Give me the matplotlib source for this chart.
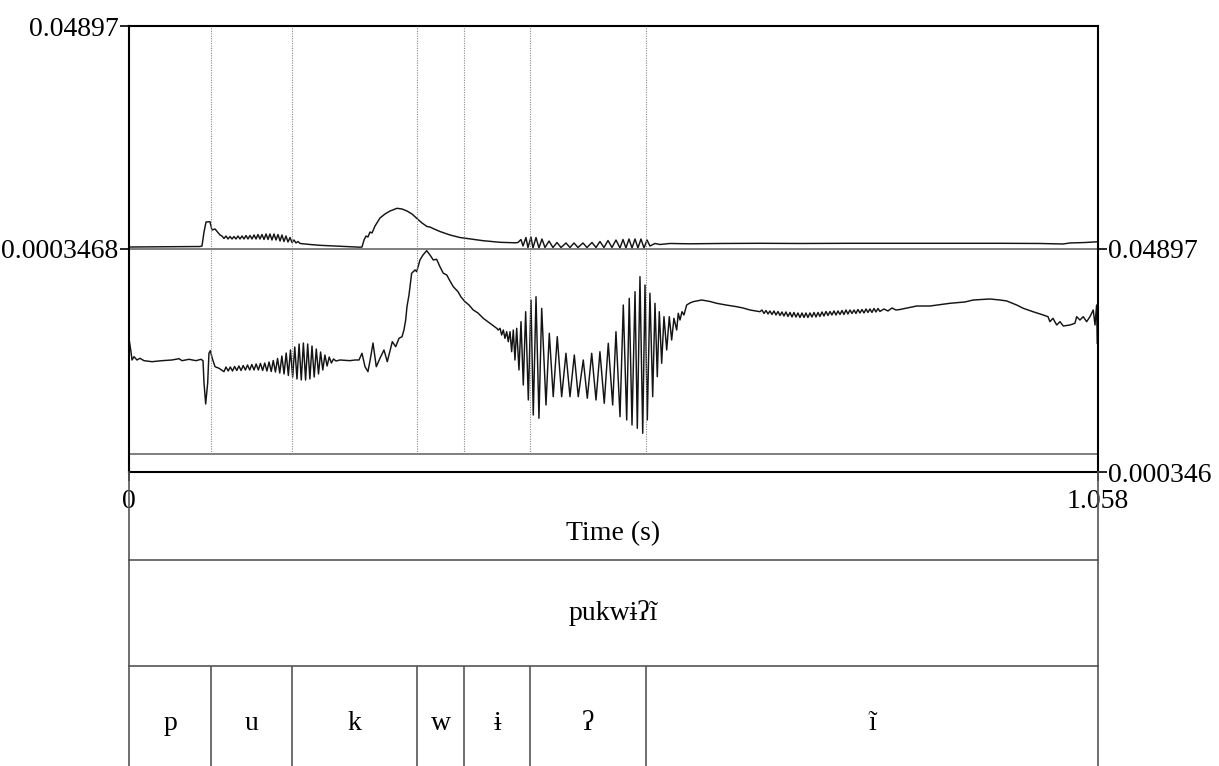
import numpy as np
import matplotlib.pyplot as plt

plt.rcParams['font.family'] = ['Liberation Serif', 'DejaVu Serif']

# time in ms, channel values in units of 1e-3
ch1 = [
    (0.0, 0.78), (33.8, 0.83), (77.5, 0.89), (79.7, 1.00), (81.9, 4.05), (84.1, 6.23), (88.4, 6.30), (90.6, 4.49),
    (93.9, 4.71), (99.4, 3.40), (101.5, 3.18), (103.7, 2.64), (105.9, 3.18), (108.1, 2.53), (110.3, 3.07), (112.5, 2.53),
    (114.6, 3.07), (116.8, 2.53), (119.0, 3.18), (121.2, 2.53), (123.4, 3.18), (125.6, 2.53), (127.7, 3.29), (129.9, 2.53),
    (132.1, 3.29), (134.3, 2.53), (136.5, 3.40), (138.7, 2.53), (140.8, 3.51), (143.0, 2.53), (145.2, 3.51), (147.4, 2.42),
    (149.6, 3.62), (151.8, 2.42), (153.9, 3.62), (156.1, 2.31), (158.3, 3.62), (160.5, 2.31), (162.7, 3.51), (164.9, 2.09),
    (167.0, 3.40), (169.2, 1.98), (171.4, 3.18), (173.6, 1.87), (175.8, 2.85), (178.0, 1.76), (180.1, 2.31), (182.3, 1.66),
    (184.5, 1.98), (186.7, 1.55), (197.6, 1.33), (208.5, 1.15), (230.4, 0.94), (252.2, 0.74), (254.4, 0.78), (256.6, 2.31),
    (258.8, 3.18), (260.9, 2.96), (263.1, 4.05), (265.3, 3.84), (268.6, 5.36), (274.0, 7.10), (279.5, 7.98), (285.0, 8.63),
    (292.6, 9.22), (298.1, 9.07), (303.5, 8.63), (309.0, 7.98), (314.4, 6.99), (319.9, 6.02), (325.4, 5.25), (328.6, 5.14),
    (331.9, 4.82), (339.5, 4.16), (350.5, 3.40), (361.4, 2.85), (369.0, 2.64), (386.5, 2.16), (405.1, 1.81), (421.4, 1.70),
    (424.7, 1.76), (428.0, 2.42), (430.2, 1.00), (433.4, 2.85), (435.6, 0.67), (438.9, 2.96), (441.1, 0.57), (444.4, 2.85),
    (447.6, 0.57), (450.9, 2.53), (454.2, 0.67), (458.6, 2.09), (462.9, 0.67), (467.3, 1.76), (471.7, 0.67), (477.1, 1.66),
    (481.5, 0.67), (485.9, 1.66), (490.2, 0.67), (495.7, 1.66), (500.0, 0.67), (505.5, 1.76), (509.9, 0.67), (514.2, 1.98),
    (518.6, 0.67), (523.0, 2.20), (527.3, 0.67), (531.7, 2.31), (536.1, 0.57), (539.4, 2.42), (542.6, 0.57), (545.9, 2.53),
    (549.2, 0.57), (552.5, 2.53), (555.7, 0.57), (559.0, 2.53), (562.3, 0.57), (565.6, 2.31), (568.8, 1.00), (574.3, 1.55),
    (579.7, 1.33), (590.7, 1.55), (612.5, 1.48), (645.3, 1.55), (688.9, 1.59), (732.6, 1.55), (787.2, 1.59), (841.8, 1.59),
    (896.4, 1.61), (951.0, 1.59), (994.6, 1.55), (1019.7, 1.44), (1027.4, 1.66), (1043.8, 1.76), (1056.9, 1.92),
]

ch2 = [
    (0.5, 28.76), (2.2, 26.52), (3.3, 24.77), (5.5, 25.49), (8.7, 24.77), (12.0, 25.14), (16.4, 24.62), (25.1, 24.40),
    (36.0, 24.62), (46.9, 24.77), (54.6, 25.05), (57.9, 24.62), (65.5, 24.92), (73.2, 24.62), (78.6, 24.92), (80.8, 24.62),
    (81.9, 19.76), (83.7, 15.18), (85.9, 19.76), (87.3, 26.23), (88.8, 26.80), (90.9, 25.14), (93.9, 23.31), (98.3, 22.96),
    (103.7, 22.22),
    # /u/ voicing
    (105.9, 23.24), (108.3, 22.37), (110.6, 23.24), (113.0, 22.37), (115.3, 23.35), (117.7, 22.48), (120.0, 23.46),
    (122.4, 22.48), (124.7, 23.57), (127.1, 22.59), (129.4, 23.68), (131.8, 22.59), (134.1, 23.79), (136.5, 22.59),
    (138.8, 23.90), (141.2, 22.59), (143.5, 24.01), (145.9, 22.48), (148.2, 24.11), (150.6, 22.37), (152.9, 24.33),
    (155.3, 22.26), (157.5, 24.66), (159.9, 22.15), (162.2, 25.10), (164.6, 21.93), (166.9, 25.64), (169.3, 21.72),
    (171.6, 26.29), (174.0, 21.39), (176.3, 26.95), (178.7, 21.06), (181.0, 27.60), (183.4, 20.63), (185.7, 28.26),
    (188.1, 20.41), (190.4, 28.47), (192.8, 20.41), (195.1, 28.26), (197.5, 20.63), (199.8, 27.82), (202.2, 21.06),
    (204.5, 27.17), (206.9, 21.72), (209.2, 26.51), (211.6, 22.59), (213.9, 25.86), (216.3, 23.46), (218.6, 25.42),
    (221.0, 24.11), (223.3, 24.99), (226.0, 24.55), (230.4, 24.77), (241.3, 24.62), (246.7, 24.77), (251.1, 24.77),
    # /k/ release
    (254.4, 26.23), (257.7, 23.31), (260.9, 22.22), (263.7, 25.21), (266.4, 28.47), (270.0, 23.31), (274.0, 25.14),
    (278.4, 26.95), (282.0, 24.40), (285.0, 26.73), (287.5, 28.76), (291.2, 27.67), (294.8, 29.50), (298.1, 29.85),
    (300.2, 31.31), (302.1, 33.49), (303.5, 36.39), (305.7, 38.94), (308.6, 43.68), (312.3, 44.40), (314.1, 44.03),
    (317.7, 46.58), (321.0, 47.67), (325.0, 48.60), (328.6, 47.67), (332.2, 46.58), (335.9, 46.73), (339.5, 45.11),
    (343.2, 43.68), (346.9, 43.31), (350.5, 41.99), (354.1, 40.75), (359.2, 39.66), (362.5, 38.51), (366.8, 37.49),
    (371.2, 36.76), (375.9, 35.67), (381.0, 35.02), (386.8, 33.86), (394.1, 32.77), (401.5, 31.68),
    # vowel and glottal stop
    (403.2, 31.31), (405.1, 31.68), (406.9, 30.22), (408.7, 31.31), (410.5, 29.50), (412.4, 30.94), (414.1, 28.76),
    (416.0, 30.94), (417.8, 26.58), (419.6, 31.31), (421.4, 24.77), (423.3, 31.68), (425.8, 22.59), (428.0, 33.12),
    (430.5, 19.32), (433.1, 35.30), (436.0, 16.05), (438.9, 37.85), (441.4, 12.77), (444.4, 38.57), (447.6, 12.06),
    (450.6, 36.04), (455.3, 14.96), (458.9, 30.59), (463.2, 16.77), (467.6, 29.85), (472.4, 16.77), (477.1, 26.23),
    (481.5, 16.77), (486.2, 25.86), (490.5, 16.77), (496.0, 24.77), (500.4, 16.42), (505.2, 26.23), (509.9, 16.05),
    (514.2, 26.58), (518.9, 15.33), (523.3, 28.41), (528.1, 14.96), (531.7, 30.94), (536.1, 12.41), (539.7, 36.76),
    (543.4, 11.69), (546.2, 38.22), (549.2, 10.60), (552.5, 39.66), (555.0, 9.88), (557.9, 42.94), (560.9, 8.79),
    (563.4, 41.12), (565.9, 11.69), (568.8, 39.32), (571.8, 16.77), (574.3, 37.13), (576.8, 21.13), (579.0, 35.30),
    (581.6, 24.05), (584.1, 34.21), (587.1, 26.95), (589.9, 34.21), (592.5, 29.13), (595.0, 33.86), (598.0, 31.31),
    (599.7, 34.95), (601.6, 33.49), (603.8, 35.30), (605.9, 34.58), (608.9, 36.76), (612.5, 37.20), (616.1, 37.49),
    (625.3, 37.85), (634.3, 37.53), (641.6, 37.13), (651.8, 36.76), (663.5, 36.39), (670.4, 36.11), (678.0, 35.67),
    (688.9, 35.30),
    # nasal vowel
    (691.1, 35.67), (693.3, 34.91), (695.5, 35.56), (697.7, 34.80), (699.8, 35.46), (702.0, 34.69), (704.2, 35.46),
    (706.4, 34.58), (708.6, 35.35), (710.8, 34.47), (712.9, 35.24), (715.1, 34.36), (717.3, 35.24), (719.5, 34.26),
    (721.7, 35.13), (723.9, 34.15), (726.0, 35.13), (728.2, 34.15), (730.4, 35.02), (732.6, 34.04), (734.8, 35.02),
    (737.0, 34.04), (739.1, 35.02), (741.3, 34.04), (743.5, 35.02), (745.7, 34.15), (747.9, 35.13), (750.1, 34.15),
    (752.3, 35.13), (754.4, 34.26), (756.6, 35.24), (758.8, 34.36), (761.0, 35.35), (763.2, 34.47), (765.4, 35.35),
    (767.5, 34.58), (769.7, 35.46), (771.9, 34.58), (774.1, 35.46), (776.3, 34.69), (778.5, 35.56), (780.6, 34.69),
    (782.8, 35.67), (785.0, 34.80), (787.2, 35.67), (789.4, 34.91), (791.6, 35.67), (793.7, 34.91), (795.9, 35.78),
    (798.1, 35.02), (800.3, 35.78), (802.5, 35.02), (804.7, 35.89), (806.8, 35.13), (809.0, 35.89), (811.2, 35.13),
    (813.4, 36.00), (815.6, 35.24), (817.8, 36.00), (819.9, 35.35), (824.3, 35.89), (828.7, 35.46), (833.0, 36.11),
    (837.4, 35.67), (841.8, 35.78), (860.0, 36.54), (874.5, 36.54), (896.4, 37.13), (912.7, 37.42), (921.8, 37.85),
    (940.0, 38.07), (951.0, 37.85), (958.3, 37.64), (969.2, 36.76), (976.4, 36.04), (987.0, 35.30), (998.2, 34.58),
    (1003.4, 34.21), (1005.5, 33.12), (1008.8, 33.86), (1012.9, 32.40), (1016.5, 33.12), (1020.1, 32.18), (1027.4, 32.40),
    (1032.8, 32.77), (1034.7, 34.21), (1038.3, 33.49), (1041.9, 34.21), (1045.6, 33.12), (1049.2, 34.21), (1052.8, 35.67),
    (1054.7, 32.40), (1056.5, 36.76), (1057.2, 28.41),
]

t_end = 1.058
ch1_range = (0.0003468, 0.04897)
ch2_range = (0.000346, 0.04897)
ch2_floor = 0.00427

word = 'pukwɨʔĩ'
phones = ['p', 'u', 'k', 'w', 'ɨ', 'ʔ', 'ĩ']
bounds = [0.0, 0.0899, 0.1785, 0.3142, 0.3662, 0.4381, 0.5648, 1.058]

W, H = 1219, 766
fig = plt.figure(figsize=(W / 100, H / 100), dpi=100)


def box(x0, y0, x1, y1):
    return [x0 / W, 1 - y1 / H, (x1 - x0) / W, (y1 - y0) / H]


ax1 = fig.add_axes(box(129, 26, 1098, 249))
ax2 = fig.add_axes(box(129, 249, 1098, 472))
ax_t = fig.add_axes(box(129, 472, 1098, 560))
ax_w = fig.add_axes(box(129, 560, 1098, 666))
ax_p = fig.add_axes(box(129, 666, 1098, 766))

trace_kw = dict(color='#141414', lw=1.05)
dot_kw = dict(color='#8a8a8a', lw=0.8, linestyle=(0, (1, 1.2)))
tier_col = '#555555'

for ax in (ax1, ax2, ax_t, ax_w, ax_p):
    ax.set_xlim(0, t_end)
    ax.patch.set_alpha(0)

# channel 1
t1, v1 = np.array(ch1).T
ax1.plot(t1 / 1000, v1 / 1000, **trace_kw)
ax1.set_ylim(*ch1_range)
for b in bounds[1:-1]:
    ax1.axvline(b, **dot_kw)
ax1.set_xticks([])
ax1.set_yticks(list(ch1_range))
ax1.set_yticklabels(['0.0003468', '0.04897'])
ax1.tick_params(axis='y', direction='out', length=6.5, width=1.2, labelsize=20, pad=1)
for s in ('top', 'left', 'right'):
    ax1.spines[s].set_linewidth(1.5)
ax1.spines['bottom'].set_color('#6a6a6a')
ax1.spines['bottom'].set_linewidth(1.2)

# channel 2
t2, v2 = np.array(ch2).T
ax2.plot(t2 / 1000, v2 / 1000, **trace_kw)
ax2.set_ylim(*ch2_range)
ax2.axhline(ch2_floor, color='#6a6a6a', lw=1.2)
ax2.vlines(bounds[1:-1], ch2_floor, ch2_range[1], **dot_kw)
ax2.yaxis.tick_right()
ax2.set_yticks(list(ch2_range))
ax2.set_yticklabels(['0.000346', '0.04897'])
ax2.set_xticks([0, t_end])
ax2.set_xticklabels(['0', '1.058'])
ax2.tick_params(direction='out', length=6.5, width=1.2, labelsize=20, pad=1)
ax2.tick_params(axis='x', pad=5.5)
ax2.spines['top'].set_visible(False)
for s in ('bottom', 'left', 'right'):
    ax2.spines[s].set_linewidth(1.5)

# tiers
for ax in (ax_t, ax_w, ax_p):
    ax.set_xticks([])
    ax.set_yticks([])
    ax.set_ylim(0, 1)
    ax.spines['bottom'].set_visible(False)
    for s in ('top', 'left', 'right'):
        ax.spines[s].set_color(tier_col)
        ax.spines[s].set_linewidth(1.2)
ax_t.spines['top'].set_visible(False)

ax_t.text(t_end / 2, 0.30, 'Time (s)', ha='center', va='center', fontsize=20)
ax_w.text(t_end / 2, 0.5, word, ha='center', va='center', fontsize=20)

ax_p.vlines(bounds[1:-1], 0, 1, color=tier_col, lw=1.2)
for ph, a, b in zip(phones, bounds[:-1], bounds[1:]):
    ax_p.text((a + b) / 2, 0.42, ph, ha='center', va='center', fontsize=20)

fig.savefig('out.png', dpi=100)
